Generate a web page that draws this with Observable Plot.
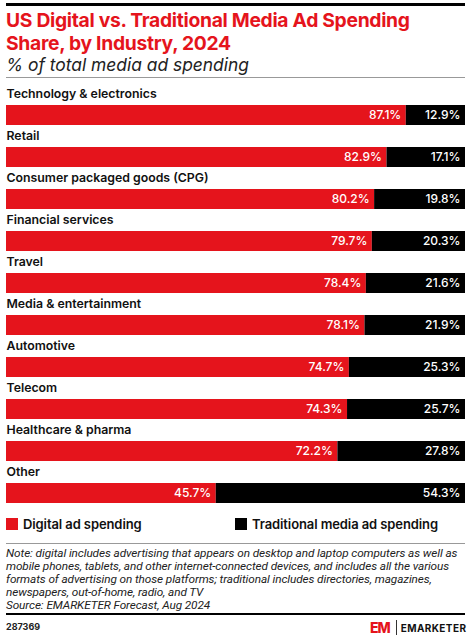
<!DOCTYPE html>
<html><head><meta charset="utf-8">
<script src="https://cdn.jsdelivr.net/npm/d3@7"></script>
<script src="https://cdn.jsdelivr.net/npm/@observablehq/plot@0.6"></script>
<style>
body{margin:0;background:#fff;font-family:Inter,"Noto Sans",sans-serif;}
#wrap{position:relative;width:472px;height:643px;overflow:hidden;}
.abs{position:absolute;}
#toprule{left:6px;top:3px;width:459px;height:3px;background:#000;}
#title{left:6px;top:9px;width:466px;color:#e5141c;font-weight:700;font-size:19.3px;line-height:22.5px;letter-spacing:-0.3px;white-space:nowrap;}
#subtitle{left:6px;top:54px;font-style:italic;font-size:17.4px;color:#222;}
#rule2{left:6px;top:77px;width:459px;height:1px;background:#999;}
#chart{left:0;top:79px;}
#legend{left:6px;top:516px;width:460px;font-size:13px;font-weight:600;color:#111;letter-spacing:-0.1px;}
.lg{position:absolute;top:0;display:flex;align-items:center;}
.sw{width:12px;height:12px;margin-right:5px;}
#rule3{left:6px;top:543px;width:459px;height:1px;background:#999;}
#note{left:6px;top:547px;width:466px;font-family:Roboto,"Noto Sans",sans-serif;font-style:italic;font-size:11.8px;line-height:13px;color:#222;white-space:nowrap;letter-spacing:-0.1px;}
#rule4{left:6px;top:613px;width:459px;height:2px;background:#000;}
#id{left:6px;top:621px;font-size:9px;font-weight:700;color:#222;}
#logo{left:370px;top:619px;display:flex;align-items:center;}
</style></head>
<body><div id="wrap">
<div id="toprule" class="abs"></div>
<div id="title" class="abs">US Digital vs. Traditional Media Ad Spending<br>Share, by Industry, 2024</div>
<div id="subtitle" class="abs">% of total media ad spending</div>
<div id="rule2" class="abs"></div>
<div id="chart" class="abs"></div>
<div id="legend" class="abs"></div>
<div id="rule3" class="abs"></div>
<div id="note" class="abs">Note: digital includes advertising that appears on desktop and laptop computers as well as<br>mobile phones, tablets, and other internet-connected devices, and includes all the various<br>formats of advertising on those platforms; traditional includes directories, magazines,<br>newspapers, out-of-home, radio, and TV<br>Source: EMARKETER Forecast, Aug 2024</div>
<div id="rule4" class="abs"></div>
<div id="id" class="abs">287369</div>
<div id="logo" class="abs"><span style="color:#e5141c;font-weight:800;font-size:14px;letter-spacing:-1px;">EM</span><span style="display:inline-block;width:1px;height:15px;background:#333;margin:0 4px 0 6px;"></span><span style="font-weight:700;font-size:10px;letter-spacing:0.4px;color:#111;">EMARKETER</span></div>
</div>
<script>
const industries = ["Technology & electronics","Retail","Consumer packaged goods (CPG)","Financial services","Travel","Media & entertainment","Automotive","Telecom","Healthcare & pharma","Other"];
const digital = [87.1, 82.9, 80.2, 79.7, 78.4, 78.1, 74.7, 74.3, 72.2, 45.7];
const traditional = [12.9, 17.1, 19.8, 20.3, 21.6, 21.9, 25.3, 25.7, 27.8, 54.3];
const seriesNames = ["Digital ad spending", "Traditional media ad spending"];
const seriesColors = ["#e5141c", "#000000"];

const rows = [];
industries.forEach((ind, i) => {
  rows.push({industry: ind, series: seriesNames[0], value: digital[i]});
  rows.push({industry: ind, series: seriesNames[1], value: traditional[i]});
});

const chart = Plot.plot({
  width: 472, height: 428,
  marginLeft: 6, marginRight: 7, marginTop: 0, marginBottom: 0,
  style: {fontFamily: "Inter, 'Noto Sans', sans-serif", overflow: "visible"},
  x: {domain: [0, 100], axis: null},
  y: {domain: industries, axis: null, padding: 0},
  color: {domain: seriesNames, range: seriesColors},
  marks: [
    Plot.barX(rows, Plot.stackX({x: "value", y: "industry", fill: "series", insetTop: 22, insetBottom: 0})),
    Plot.text(rows, Plot.stackX2({x: "value", y: "industry", z: "series", text: d => d.value.toFixed(1) + "%", fill: "white", textAnchor: "end", dx: -5, dy: 11, fontSize: 12, fontWeight: 500})),
    Plot.text(industries, {x: () => 0, y: d => d, text: d => d, textAnchor: "start", dy: -10, fontSize: 12.3, fontWeight: 600, fill: "#111"})
  ]
});
document.getElementById("chart").appendChild(chart);

const legend = document.getElementById("legend");
const lx = [0, 229];
seriesNames.forEach((s, i) => {
  const d = document.createElement("div");
  d.className = "lg";
  d.style.left = lx[i] + "px";
  d.innerHTML = `<span class="sw" style="background:${seriesColors[i]}"></span><span>${s}</span>`;
  legend.appendChild(d);
});
</script>
</body></html>
